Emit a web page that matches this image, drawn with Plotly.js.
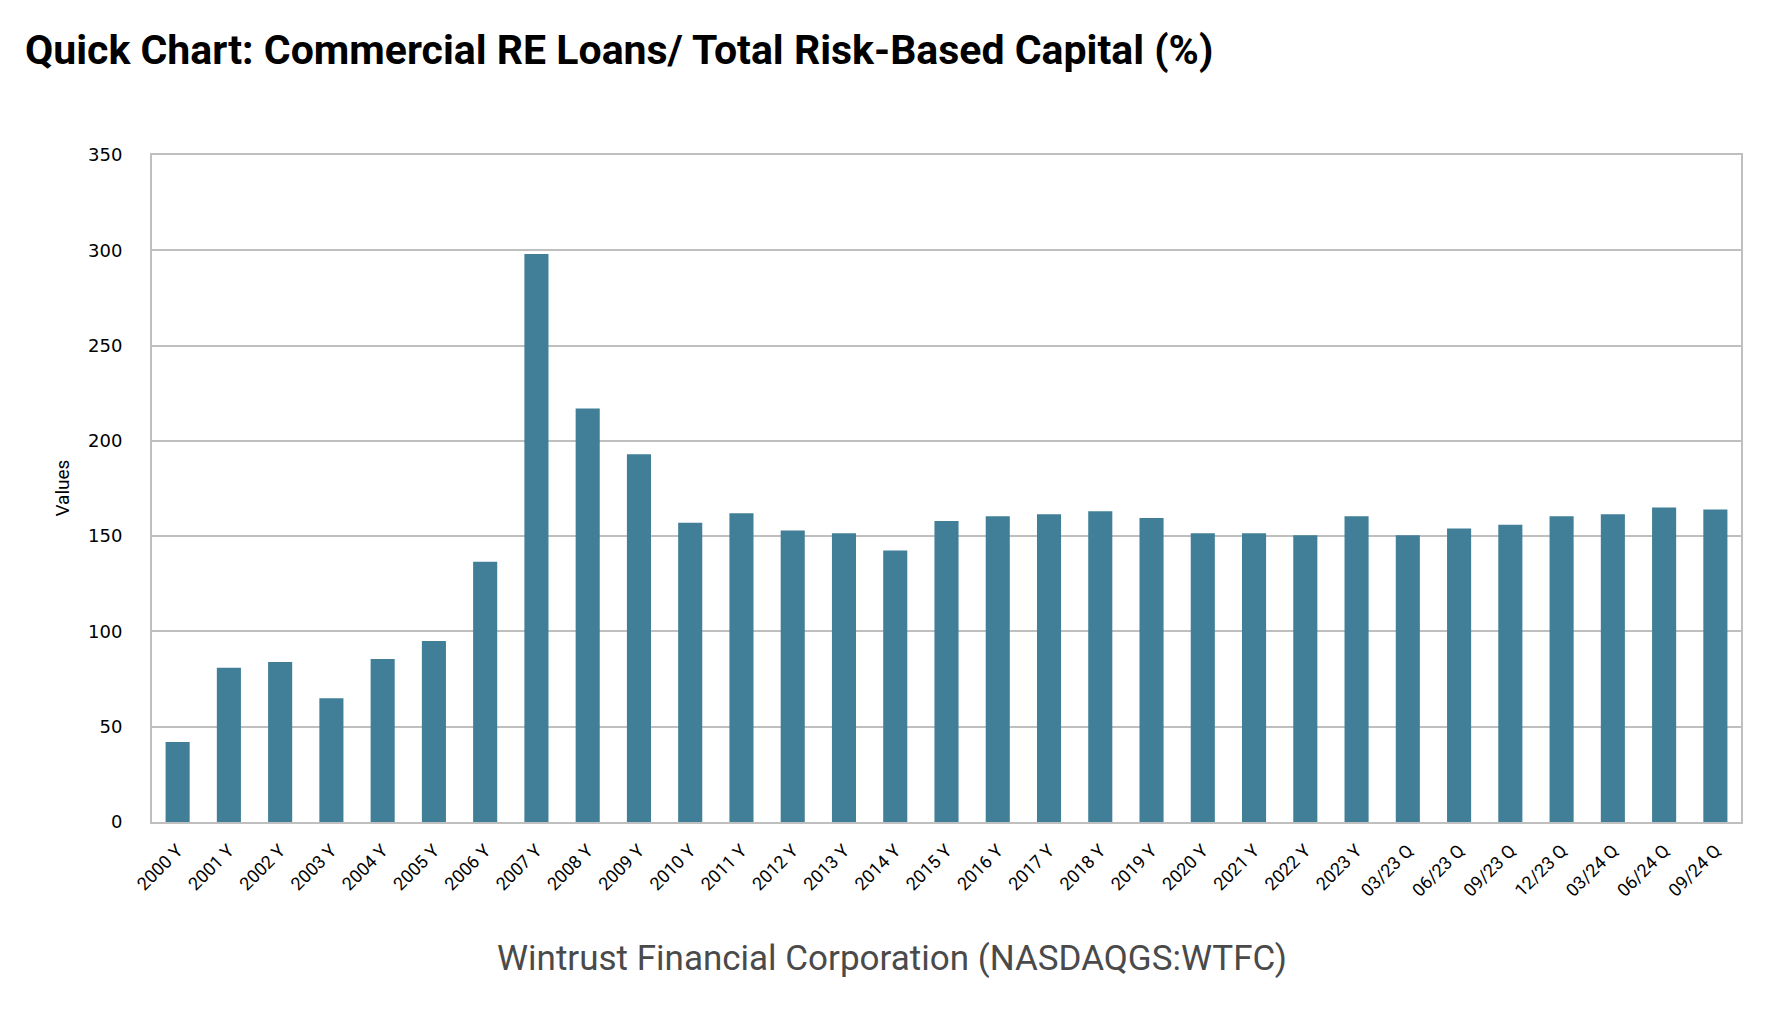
<!DOCTYPE html>
<html>
<head>
<meta charset="utf-8">
<script src="https://cdn.plot.ly/plotly-3.0.1.min.js"></script>
<style>
  html, body { margin: 0; padding: 0; background: #fff; }
  #chart { width: 1782px; height: 1014px; }
</style>
</head>
<body>
<div id="chart"></div>
<script>
const periods = [
    '2000 Y', '2001 Y', '2002 Y', '2003 Y', '2004 Y', '2005 Y', '2006 Y', '2007 Y',
    '2008 Y', '2009 Y', '2010 Y', '2011 Y', '2012 Y', '2013 Y', '2014 Y', '2015 Y',
    '2016 Y', '2017 Y', '2018 Y', '2019 Y', '2020 Y', '2021 Y', '2022 Y', '2023 Y',
    '03/23 Q', '06/23 Q', '09/23 Q', '12/23 Q', '03/24 Q', '06/24 Q', '09/24 Q'];

const creRatio = [
    42, 81, 84, 65, 85.5, 95, 136.5, 298,
    217, 193, 157, 162, 153, 151.5, 142.5, 158,
    160.5, 161.5, 163, 159.5, 151.5, 151.5, 150.5, 160.5,
    150.5, 154, 156, 160.5, 161.5, 165, 164];

const yTicks = [0, 50, 100, 150, 200, 250, 300, 350];

const chartTitle = 'Quick Chart: Commercial RE Loans/ Total Risk-Based Capital (%)';
const companyName = 'Wintrust Financial Corporation (NASDAQGS:WTFC)';

const trace = {
    x: periods,
    y: creRatio,
    type: 'bar',
    marker: { color: '#417f98' },
    hoverinfo: 'x+y',
};

const layout = {
    width: 1782,
    height: 1014,
    margin: { l: 152, r: 41, t: 155, b: 192 },
    paper_bgcolor: '#ffffff',
    plot_bgcolor: '#ffffff',
    showlegend: false,
    bargap: 0.53,
    title: {
        text: '<b>' + chartTitle + '</b>',
        font: { family: 'Roboto', size: 41, color: '#000000' },
        xref: 'container', x: 0.014, xanchor: 'left',
        yref: 'container', y: 0.951, yanchor: 'middle',
    },
    xaxis: {
        type: 'category',
        tickangle: -45,
        tickfont: { family: 'Roboto', size: 18, color: '#000000' },
        showline: true, mirror: true,
        linecolor: '#bfbfbf', linewidth: 2,
        showgrid: false,
        ticks: '',
        ticklabelstandoff: 9,
    },
    yaxis: {
        range: [0, 350],
        tickvals: yTicks,
        tickfont: { family: 'DejaVu Sans', size: 18, color: '#000000' },
        showline: true, mirror: true,
        linecolor: '#bfbfbf', linewidth: 2,
        showgrid: true, gridcolor: '#bfbfbf', gridwidth: 1.5,
        zeroline: false,
        ticks: '',
        ticklabelstandoff: 24,
    },
    annotations: [
        {
            text: 'Values',
            textangle: -90,
            xref: 'paper', x: -0.0566, xanchor: 'center',
            yref: 'paper', y: 0.5, yanchor: 'middle',
            showarrow: false,
            font: { family: 'Roboto', size: 19, color: '#000000' },
        },
        {
            text: companyName,
            xref: 'paper', x: 0.466, xanchor: 'center',
            yref: 'paper', y: -0.204, yanchor: 'middle',
            showarrow: false,
            font: { family: 'Roboto', size: 35, color: '#4a4a4a' },
        },
    ],
};

Plotly.newPlot('chart', [trace], layout, { displayModeBar: false });
</script>
</body>
</html>
